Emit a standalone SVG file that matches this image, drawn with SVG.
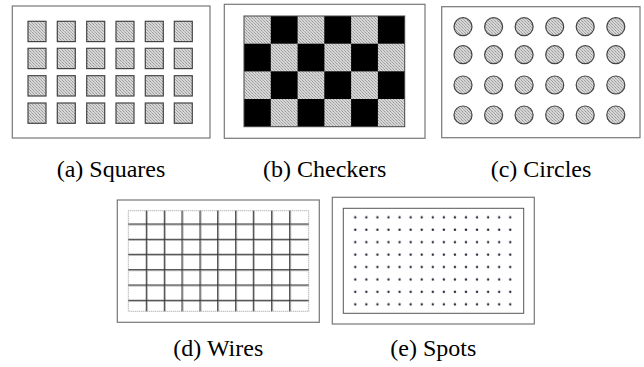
<svg xmlns="http://www.w3.org/2000/svg" width="644" height="367" viewBox="0 0 644 367">
<defs>
<pattern id="ht" width="3" height="3" patternUnits="userSpaceOnUse">
<rect width="3" height="3" fill="#d6d6d6"/>
<rect x="0" y="0" width="1" height="1" fill="#9a9a9a"/>
<rect x="1" y="1" width="1" height="1" fill="#b0b0b0"/>
<rect x="2" y="2" width="1" height="1" fill="#a4a4a4"/>
</pattern>
<pattern id="dots" x="349.8" y="211.8" width="11.07" height="12.43" patternUnits="userSpaceOnUse">
<circle cx="5.5" cy="5.5" r="1.2" fill="#1f2535"/>
</pattern>
</defs>
<style>
.frame{fill:#fff;stroke:#777;stroke-width:1.2}
.sq{fill:url(#ht);stroke:#444;stroke-width:1.2}
.ci{fill:url(#ht);stroke:#444;stroke-width:1.2}
.lt{fill:url(#ht)}
.bk{fill:#000}
.wire{stroke:#333;stroke-width:1}
.wire2{stroke:#aaa;stroke-width:1}
.lbl{font-family:'Liberation Serif','Times New Roman',serif;font-size:24px;fill:#000;text-anchor:middle}
</style>
<rect width="644" height="367" fill="#fff"/>

<g id="squares">
<rect class="frame" x="12.3" y="6" width="197.7" height="132"/>
<g id="sq-cells">
<rect class="sq" x="28" y="21.3" width="18" height="20.3"/><rect class="sq" x="57.3" y="21.3" width="18" height="20.3"/><rect class="sq" x="86.7" y="21.3" width="18" height="20.3"/><rect class="sq" x="116" y="21.3" width="18" height="20.3"/><rect class="sq" x="145.3" y="21.3" width="18" height="20.3"/><rect class="sq" x="174.3" y="21.3" width="18" height="20.3"/>
<rect class="sq" x="28" y="48.3" width="18" height="20.3"/><rect class="sq" x="57.3" y="48.3" width="18" height="20.3"/><rect class="sq" x="86.7" y="48.3" width="18" height="20.3"/><rect class="sq" x="116" y="48.3" width="18" height="20.3"/><rect class="sq" x="145.3" y="48.3" width="18" height="20.3"/><rect class="sq" x="174.3" y="48.3" width="18" height="20.3"/>
<rect class="sq" x="28" y="75.7" width="18" height="20.3"/><rect class="sq" x="57.3" y="75.7" width="18" height="20.3"/><rect class="sq" x="86.7" y="75.7" width="18" height="20.3"/><rect class="sq" x="116" y="75.7" width="18" height="20.3"/><rect class="sq" x="145.3" y="75.7" width="18" height="20.3"/><rect class="sq" x="174.3" y="75.7" width="18" height="20.3"/>
<rect class="sq" x="28" y="103" width="18" height="20.3"/><rect class="sq" x="57.3" y="103" width="18" height="20.3"/><rect class="sq" x="86.7" y="103" width="18" height="20.3"/><rect class="sq" x="116" y="103" width="18" height="20.3"/><rect class="sq" x="145.3" y="103" width="18" height="20.3"/><rect class="sq" x="174.3" y="103" width="18" height="20.3"/>
</g>
<text class="lbl" x="111" y="177">(a) Squares</text>
</g>

<g id="checkers">
<rect class="frame" x="224.3" y="4.3" width="200.7" height="134"/>
<rect class="lt" x="244" y="16" width="160.7" height="110.7"/>
<g id="ck-black">
<rect class="bk" x="270.8" y="16" width="26.8" height="27.7"/><rect class="bk" x="324.3" y="16" width="26.8" height="27.7"/><rect class="bk" x="377.9" y="16" width="26.8" height="27.7"/>
<rect class="bk" x="244" y="43.7" width="26.8" height="27.7"/><rect class="bk" x="297.6" y="43.7" width="26.8" height="27.7"/><rect class="bk" x="351.1" y="43.7" width="26.8" height="27.7"/>
<rect class="bk" x="270.8" y="71.3" width="26.8" height="27.7"/><rect class="bk" x="324.3" y="71.3" width="26.8" height="27.7"/><rect class="bk" x="377.9" y="71.3" width="26.8" height="27.7"/>
<rect class="bk" x="244" y="99" width="26.8" height="27.7"/><rect class="bk" x="297.6" y="99" width="26.8" height="27.7"/><rect class="bk" x="351.1" y="99" width="26.8" height="27.7"/>
</g>
<rect x="244" y="16" width="160.7" height="110.7" fill="none" stroke="#444" stroke-width="1"/>
<text class="lbl" x="324.7" y="177">(b) Checkers</text>
</g>

<g id="circles">
<rect class="frame" x="441.7" y="6.7" width="198.3" height="131"/>
<g id="ci-cells">
<circle class="ci" cx="463" cy="26.7" r="9"/><circle class="ci" cx="493.6" cy="26.7" r="9"/><circle class="ci" cx="524.1" cy="26.7" r="9"/><circle class="ci" cx="554.7" cy="26.7" r="9"/><circle class="ci" cx="585.2" cy="26.7" r="9"/><circle class="ci" cx="615.8" cy="26.7" r="9"/>
<circle class="ci" cx="463" cy="54.7" r="9"/><circle class="ci" cx="493.6" cy="54.7" r="9"/><circle class="ci" cx="524.1" cy="54.7" r="9"/><circle class="ci" cx="554.7" cy="54.7" r="9"/><circle class="ci" cx="585.2" cy="54.7" r="9"/><circle class="ci" cx="615.8" cy="54.7" r="9"/>
<circle class="ci" cx="463" cy="85" r="9"/><circle class="ci" cx="493.6" cy="85" r="9"/><circle class="ci" cx="524.1" cy="85" r="9"/><circle class="ci" cx="554.7" cy="85" r="9"/><circle class="ci" cx="585.2" cy="85" r="9"/><circle class="ci" cx="615.8" cy="85" r="9"/>
<circle class="ci" cx="463" cy="115" r="9"/><circle class="ci" cx="493.6" cy="115" r="9"/><circle class="ci" cx="524.1" cy="115" r="9"/><circle class="ci" cx="554.7" cy="115" r="9"/><circle class="ci" cx="585.2" cy="115" r="9"/><circle class="ci" cx="615.8" cy="115" r="9"/>
</g>
<text class="lbl" x="541" y="177">(c) Circles</text>
</g>

<g id="wires">
<rect class="frame" x="117.3" y="200" width="202" height="122.3"/>
<rect x="128.3" y="210.7" width="180.4" height="100.6" fill="none" stroke="#999" stroke-width="1" stroke-dasharray="1,1"/>
<g id="wire-lines">
<path class="wire2" d="M147.3 210.7V311.3M165.3 210.7V311.3M183 210.7V311.3M201 210.7V311.3M218.7 210.7V311.3M236.7 210.7V311.3M254.3 210.7V311.3M272.7 210.7V311.3M290.7 210.7V311.3M128.3 225H308.7M128.3 240.3H308.7M128.3 255.3H308.7M128.3 270.7H308.7M128.3 286H308.7M128.3 301.3H308.7"/>
<path class="wire" d="M146.3 210.7V311.3M164.3 210.7V311.3M182 210.7V311.3M200 210.7V311.3M217.7 210.7V311.3M235.7 210.7V311.3M253.3 210.7V311.3M271.7 210.7V311.3M289.7 210.7V311.3M128.3 224H308.7M128.3 239.3H308.7M128.3 254.3H308.7M128.3 269.7H308.7M128.3 285H308.7M128.3 300.3H308.7"/>
</g>
<text class="lbl" x="218.3" y="356">(d) Wires</text>
</g>

<g id="spots">
<rect class="frame" x="332.3" y="197.3" width="202" height="126.7"/>
<rect x="343.3" y="208.3" width="180.4" height="105" fill="none" stroke="#555" stroke-width="1"/>
<rect id="spot-dots" x="349.8" y="211.8" width="166.05" height="99.44" fill="url(#dots)"/>
<text class="lbl" x="433.3" y="356">(e) Spots</text>
</g>
</svg>
